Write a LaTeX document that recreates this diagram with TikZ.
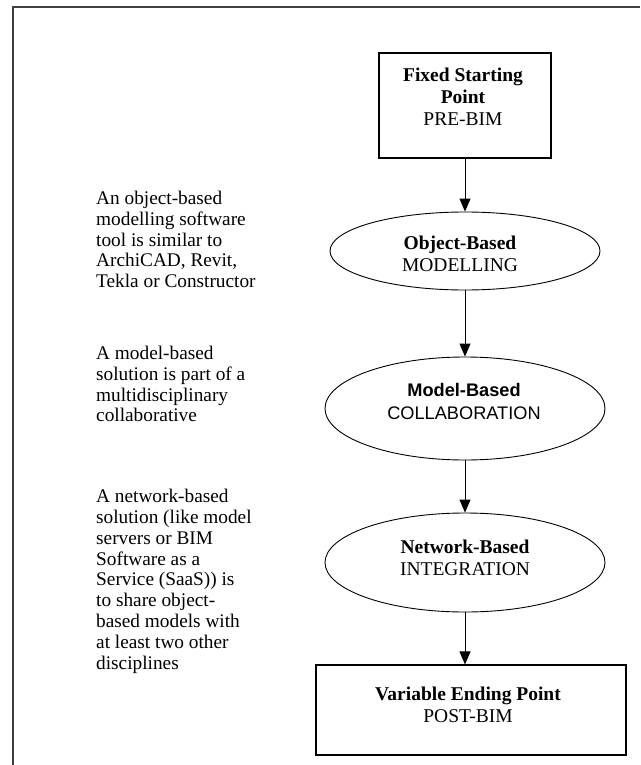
\documentclass[tikz,border=0pt]{standalone}
\usepackage{fontspec}
\setmainfont{Liberation Serif}
\newfontfamily\arialf{Liberation Sans}
\usetikzlibrary{shapes.geometric,arrows.meta}
\tikzset{
  stepbox/.style={draw, line width=1.1pt, rectangle, inner sep=0pt},
  stageell/.style={draw, line width=0.9pt, ellipse, inner sep=0pt},
  flow/.style={line width=1pt, -{Triangle[length=13pt,width=11pt]}},
  lbl/.style={align=center, font=\fontsize{19.5}{22}\selectfont},
  note/.style={align=left, anchor=north west, inner sep=0pt, font=\fontsize{19.3}{20.8}\selectfont},
}
\begin{document}
\begin{tikzpicture}[x=1pt,y=-1pt]
\useasboundingbox (0,0) rectangle (640,765);
\draw[line width=1.2pt, black!75] (13,765) -- (13,7) -- (640,7);
% boxes and ellipses
\node[stepbox, minimum width=172pt, minimum height=105pt] (start) at (465,105.5) {};
\node[lbl] at (463,97) {\textbf{Fixed Starting}\\\textbf{Point}\\PRE-BIM};
\node[stageell, minimum width=270pt, minimum height=78pt] (obj) at (465,251) {};
\node[lbl] at (460,254) {\textbf{Object-Based}\\MODELLING};
\node[stageell, minimum width=280pt, minimum height=103pt] (mod) at (465,408.5) {};
\node[lbl, font=\arialf\fontsize{18.2}{23}\selectfont] at (464,401) {\textbf{Model-Based}\\COLLABORATION};
\node[stageell, minimum width=280pt, minimum height=99pt] (net) at (465,562.5) {};
\node[lbl] at (465,558) {\textbf{Network-Based}\\INTEGRATION};
\node[stepbox, minimum width=310pt, minimum height=90pt] (end) at (471,710) {};
\node[lbl] at (468,705) {\textbf{Variable Ending Point}\\POST-BIM};
% connectors
\draw[flow] (start.south -| obj.north) -- (obj.north);
\draw[flow] (obj) -- (mod);
\draw[flow] (mod) -- (net);
\draw[flow] (net.south) -- (net.south |- end.north);
% notes
\node[note] (n1) at (96,191) {An object-based\\modelling software\\tool is similar to\\ArchiCAD, Revit,\\Tekla or Constructor};
\node[note] (n2) at (96,346) {A model-based\\solution is part of a\\multidisciplinary\\collaborative};
\node[note] (n3) at (96,489) {A network-based\\solution (like model\\servers or BIM\\Software as a\\Service (SaaS)) is\\to share object-\\based models with\\at least two other\\disciplines};
\end{tikzpicture}
\end{document}
